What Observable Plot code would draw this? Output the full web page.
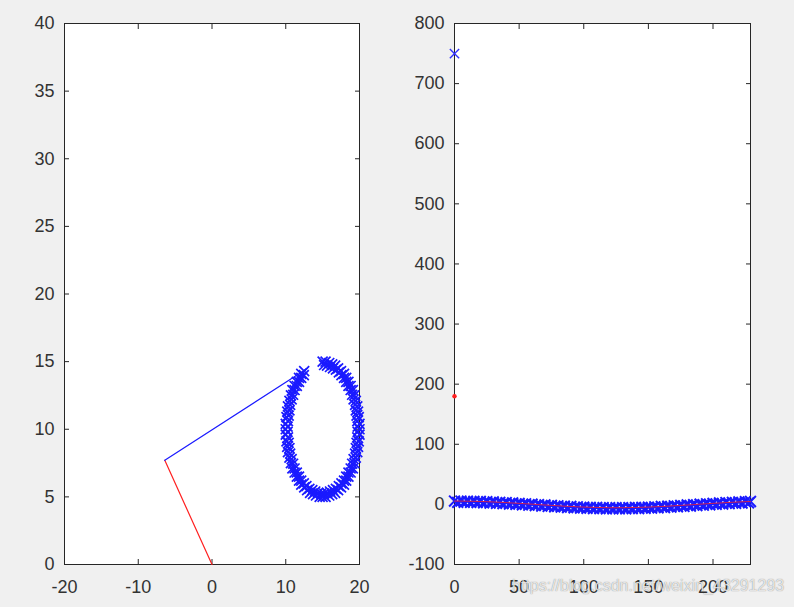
<!DOCTYPE html>
<html><head><meta charset="utf-8">
<script src="https://cdn.jsdelivr.net/npm/d3@7"></script>
<script src="https://cdn.jsdelivr.net/npm/@observablehq/plot@0.6"></script>
<style>
html,body{margin:0;padding:0;background:#f0f0f0;width:794px;height:607px;overflow:hidden;}
#wrap{position:relative;width:794px;height:607px;}
.p{position:absolute;top:0;}
#wm{position:absolute;left:512px;top:577px;font:16px "Liberation Sans",Arial,sans-serif;color:rgba(255,255,255,0.8);text-shadow:0 0 1px rgba(60,60,60,0.7);white-space:nowrap;}
</style></head><body>
<div id="wrap"><div id="left" class="p" style="left:0"></div><div id="right" class="p" style="left:397px"></div><div id="wm">https://blog.csdn.net/weixin_43291293</div></div>
<script>
// ---- Left subplot data ----
const leftXTicks = [-20, -10, 0, 10, 20];
const leftYTicks = [0, 5, 10, 15, 20, 25, 30, 35, 40];
const link1X = [0, -6.4];
const link1Y = [0, 7.7];
const link2X = [-6.4, 12.9];
const link2Y = [7.7, 14.5];
// end-effector trajectory, first pass
const pathX = [15.0,15.4,15.9,16.3,16.7,17.1,17.5,17.9,18.2,18.5,18.8,19.1,19.3,19.5,19.7,19.8,19.9,20.0,20.0,20.0,19.9,19.8,19.7,19.5,19.3,19.1,18.8,18.5,18.2,17.9,17.5,17.1,16.7,16.3,15.9,15.4,15.0,14.6,14.1,13.7,13.3,12.9,12.5,12.1,11.8,11.5,11.2,10.9,10.7,10.5,10.3,10.2,10.1,10.0,10.0,10.0,10.1,10.2,10.3,10.5,10.7,10.9,11.2,11.5,11.8,12.1,12.5];
const pathY = [15.0,15.0,14.9,14.8,14.7,14.5,14.3,14.1,13.8,13.5,13.2,12.9,12.5,12.1,11.7,11.3,10.9,10.4,10.0,9.6,9.1,8.7,8.3,7.9,7.5,7.1,6.8,6.5,6.2,5.9,5.7,5.5,5.3,5.2,5.1,5.0,5.0,5.0,5.1,5.2,5.3,5.5,5.7,5.9,6.2,6.5,6.8,7.1,7.5,7.9,8.3,8.7,9.1,9.6,10.0,10.4,10.9,11.3,11.7,12.1,12.5,12.9,13.2,13.5,13.8,14.1,14.3];
// end-effector trajectory, second pass (slightly inside)
const path2X = [15.2,15.6,16.0,16.4,16.8,17.2,17.55,17.9,18.2,18.5,18.8,19.0,19.2,19.4,19.5,19.6,19.7,19.75,19.75,19.7,19.6,19.5,19.4,19.2,19.0,18.8,18.5,18.2,17.9,17.55,17.2,16.8,16.4,16.0,15.6,15.2,14.8,14.4,14.0,13.6,13.2,12.8,12.45,12.1,11.8,11.5,11.2,11.0,10.8,10.6,10.5,10.4,10.3,10.25,10.25,10.3,10.4,10.5,10.6,10.8,11.0,11.2,11.5,11.8,12.1,12.45];
const path2Y = [14.75,14.7,14.6,14.5,14.4,14.2,14.0,13.8,13.5,13.2,12.9,12.55,12.2,11.8,11.4,11.0,10.6,10.2,9.8,9.4,9.0,8.6,8.2,7.8,7.45,7.1,6.8,6.5,6.2,6.0,5.8,5.6,5.5,5.4,5.3,5.25,5.25,5.3,5.4,5.5,5.6,5.8,6.0,6.2,6.5,6.8,7.1,7.45,7.8,8.2,8.6,9.0,9.4,9.8,10.2,10.6,11.0,11.4,11.8,12.2,12.55,12.9,13.2,13.5,13.8,14.0];

// ---- Right subplot data ----
const rightXTicks = [0, 50, 100, 150, 200];
const rightYTicks = [-100, 0, 100, 200, 300, 400, 500, 600, 700, 800];
const startBlueX = [0];
const startBlueY = [750];
const startRedX = [0];
const startRedY = [180];
const seqX = [0,5,10,15,20,25,30,35,40,45,50,55,60,65,70,75,80,85,90,95,100,105,110,115,120,125,130,135,140,145,150,155,160,165,170,175,180,185,190,195,200,205,210,215,220,225,229];
const seqY = [5.5,5.5,5.3,5.1,4.8,4.5,4.0,3.5,3.0,2.3,1.7,1.0,0.4,-0.4,-1.0,-1.7,-2.3,-3.0,-3.5,-4.0,-4.5,-4.8,-5.1,-5.3,-5.5,-5.5,-5.5,-5.3,-5.1,-4.8,-4.5,-4.0,-3.5,-3.0,-2.3,-1.7,-1.0,-0.4,0.4,1.0,1.7,2.3,3.0,3.5,4.0,4.5,4.8];
const seq2X = [2.5,7.5,12.5,17.5,22.5,27.5,32.5,37.5,42.5,47.5,52.5,57.5,62.5,67.5,72.5,77.5,82.5,87.5,92.5,97.5,102.5,107.5,112.5,117.5,122.5,127.5,132.5,137.5,142.5,147.5,152.5,157.5,162.5,167.5,172.5,177.5,182.5,187.5,192.5,197.5,202.5,207.5,212.5,217.5,222.5,227.5];
const seq2Y = [3.5,3.4,3.2,3.0,2.6,2.2,1.8,1.2,0.6,0.0,-0.6,-1.3,-2.0,-2.7,-3.4,-4.0,-4.6,-5.2,-5.8,-6.2,-6.6,-7.0,-7.2,-7.4,-7.5,-7.5,-7.4,-7.2,-7.0,-6.6,-6.2,-5.8,-5.2,-4.6,-4.0,-3.4,-2.7,-2.0,-1.3,-0.6,0.0,0.6,1.2,1.8,2.2,2.6];

const fontStyle = {background:"transparent", fontFamily:"'Liberation Sans', Arial, sans-serif", fontSize:"18px", color:"#333"};
const tbl = (xs, ys) => xs.map((x, i) => ({x, y: ys[i]}));
const BLUE = "#1a1aff", RED = "#ff2020";

function axes(xt, yt) {
  const blank = () => "";
  return [
    Plot.axisX(xt, {anchor:"bottom", tickSize:0, tickPadding:16, label:null, tickFormat: d => String(d), fill:"#333"}),
    Plot.axisY(yt, {anchor:"left", tickSize:0, tickPadding:10, label:null, tickFormat: d => String(d), fill:"#333"}),
    Plot.axisX(xt, {anchor:"bottom", tickSize:-5, label:null, tickFormat: blank, stroke:"#262626"}),
    Plot.axisX(xt, {anchor:"top", tickSize:-5, label:null, tickFormat: blank, stroke:"#262626"}),
    Plot.axisY(yt, {anchor:"left", tickSize:-5, label:null, tickFormat: blank, stroke:"#262626"}),
    Plot.axisY(yt, {anchor:"right", tickSize:-5, label:null, tickFormat: blank, stroke:"#262626"}),
    Plot.frame({stroke:"#262626", strokeWidth:1})
  ];
}

const left = Plot.plot({
  width: 397, height: 607,
  marginLeft: 64, marginRight: 38, marginTop: 23, marginBottom: 43,
  style: fontStyle,
  x: {domain: [-20, 20], label: null},
  y: {domain: [0, 40], label: null},
  marks: [
    Plot.frame({fill:"#ffffff", stroke:null}),
    ...axes(leftXTicks, leftYTicks),
    Plot.line(tbl(link1X, link1Y), {x:"x", y:"y", stroke:RED, strokeWidth:1.2}),
    Plot.line(tbl(link2X, link2Y), {x:"x", y:"y", stroke:BLUE, strokeWidth:1.2}),
    Plot.dot(tbl(path2X, path2Y), {x:"x", y:"y", symbol:"times", r:4.6, stroke:BLUE, strokeWidth:1.7}),
    Plot.dot(tbl(pathX, pathY), {x:"x", y:"y", symbol:"times", r:4.6, stroke:BLUE, strokeWidth:1.7})
  ]
});
document.getElementById("left").appendChild(left);

const right = Plot.plot({
  width: 397, height: 607,
  marginLeft: 57, marginRight: 44, marginTop: 23, marginBottom: 43,
  style: fontStyle,
  x: {domain: [0, 229], label: null},
  y: {domain: [-100, 800], label: null},
  marks: [
    Plot.frame({fill:"#ffffff", stroke:null}),
    ...axes(rightXTicks, rightYTicks),
    Plot.dot(tbl(seq2X, seq2Y), {x:"x", y:"y", symbol:"times", r:5, stroke:BLUE, strokeWidth:2}),
    Plot.dot(tbl(seqX, seqY), {x:"x", y:"y", symbol:"times", r:5, stroke:BLUE, strokeWidth:2}),
    Plot.line(tbl(seqX, seqY), {x:"x", y:"y", stroke:RED, strokeWidth:1, strokeOpacity:0.8}),
    Plot.dot(tbl(startBlueX, startBlueY), {x:"x", y:"y", symbol:"times", r:4.3, stroke:"#3333ff", strokeWidth:1.4}),
    Plot.dot(tbl(startRedX, startRedY), {x:"x", y:"y", r:2.2, fill:RED, stroke:"none"})
  ]
});
document.getElementById("right").appendChild(right);
</script>
</body></html>
